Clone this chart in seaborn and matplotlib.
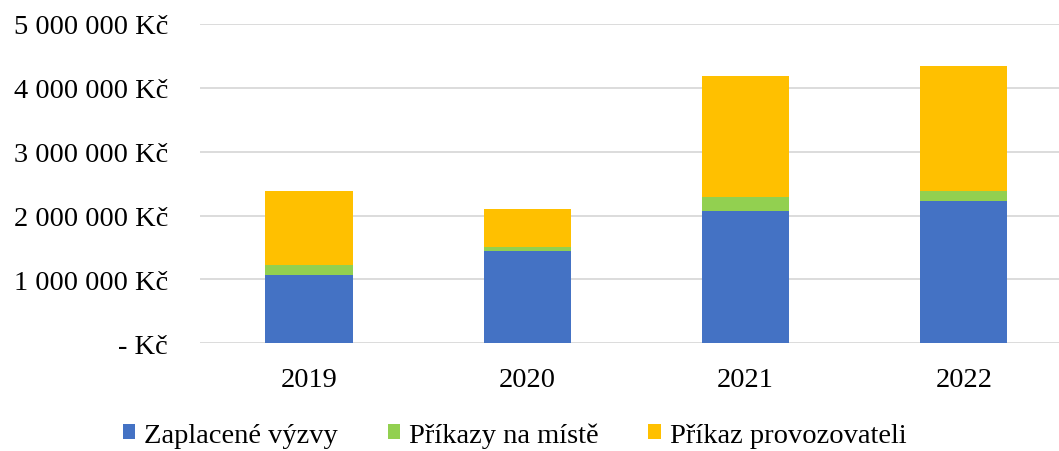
import pandas as pd
import numpy as np
import matplotlib.pyplot as plt
import seaborn as sns
from matplotlib.patches import Patch
from matplotlib.ticker import FuncFormatter

# Data (Kč)
years = ['2019', '2020', '2021', '2022']
zaplacene_vyzvy = [1070000, 1446000, 2067000, 2224000]
prikazy_na_miste = [156000, 62000, 220000, 156000]
prikaz_provozovateli = [1159000, 595000, 1903000, 1970000]

series_names = ['Zaplacené výzvy', 'Příkazy na místě', 'Příkaz provozovateli']
colors = ['#4472C4', '#92D050', '#FFC000']

sns.set_style('white')
plt.rcParams['font.family'] = ['Liberation Serif', 'DejaVu Serif']
plt.rcParams['text.color'] = 'black'

df = pd.DataFrame({
    'year': years,
    series_names[0]: zaplacene_vyzvy,
    series_names[1]: prikazy_na_miste,
    series_names[2]: prikaz_provozovateli,
})
cum = df[series_names].cumsum(axis=1)

fig = plt.figure(figsize=(10.59, 4.52), dpi=100)
ax = fig.add_axes([200 / 1059, 1 - 344.3 / 452, 859 / 1059, (344.3 - 25) / 452])

# Stacked bars: draw cumulative totals, tallest first
for name, color in reversed(list(zip(series_names, colors))):
    sns.barplot(x=df['year'], y=cum[name], color=color, width=0.4,
                saturation=1, ax=ax, edgecolor='none')

ax.set_ylim(0, 5000000)
ax.set_xlim(-0.5, 3.436)
ax.set_yticks(np.arange(0, 5000001, 1000000))


def kc(v, pos):
    if v == 0:
        return '- Kč'
    return f'{int(v):,} Kč'.replace(',', ' ')


ax.yaxis.set_major_formatter(FuncFormatter(kc))
ax.grid(axis='y', color='#D9D9D9', linewidth=1.3)
ax.set_axisbelow(True)
for s in ax.spines.values():
    s.set_visible(False)
ax.tick_params(axis='both', length=0, labelsize=20.5, colors='black')
ax.tick_params(axis='y', pad=23)
ax.tick_params(axis='x', pad=17)
ax.set_xlabel('')
ax.set_ylabel('')

handles = [Patch(facecolor=c, edgecolor='none', label=n) for n, c in zip(series_names, colors)]
fig.legend(handles=handles, loc='center', ncol=3, frameon=False, fontsize=20.5,
           bbox_to_anchor=(514.5 / 1059, 1 - 436 / 452), labelcolor='black',
           handlelength=0.45, handleheight=0.45, handletextpad=0.3,
           columnspacing=1.75, borderpad=0)

fig.savefig('out.png', dpi=100)
